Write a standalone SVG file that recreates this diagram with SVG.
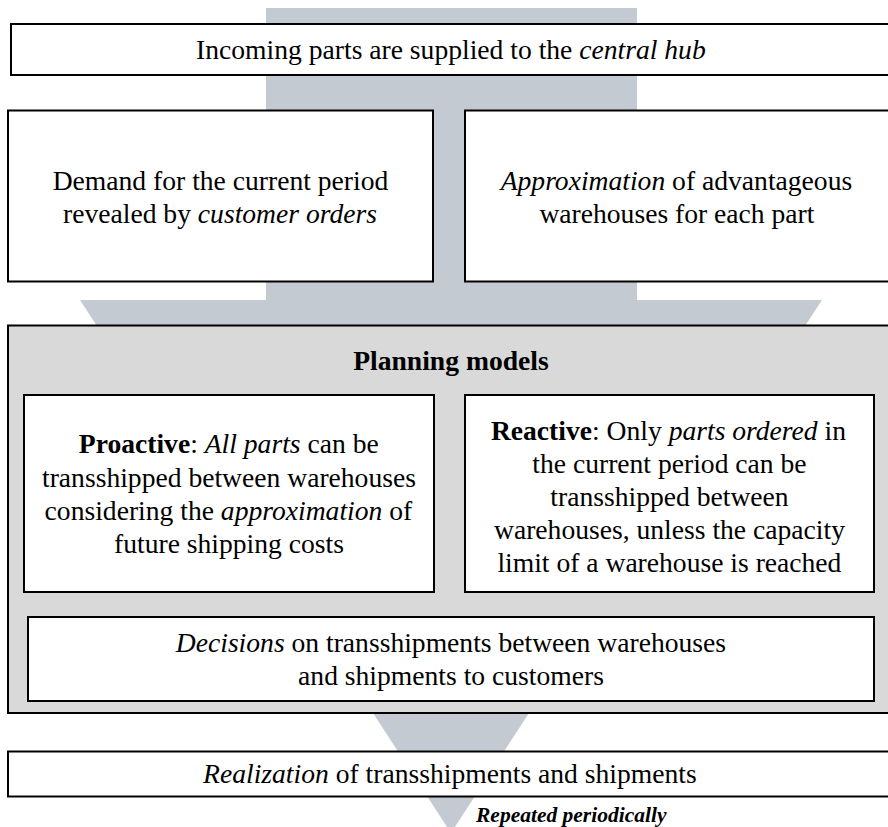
<svg xmlns="http://www.w3.org/2000/svg" width="888" height="827" viewBox="0 0 888 827">
<style>
.box{fill:#ffffff;stroke:#000000;stroke-width:2}
.panel{fill:#d9d9d9;stroke:#000000;stroke-width:2}
.flow{fill:#c3cad1;stroke:none}
</style>
<rect width="888" height="827" fill="#ffffff"/>
<g id="connectors">
<path class="flow" d="M266,8 H637 V300 H822 L805,326 H97 L80,300 H266 Z"/>
<path class="flow" d="M373,713 H529 L451,833 Z"/>
</g>
<g id="node-incoming">
<rect class="box" x="11" y="24" width="890" height="51"/>
<text font-family="Liberation Serif" font-size="27.6" x="196.1" y="59"><tspan style="font-family:'Liberation Serif',serif">Incoming parts are supplied to the </tspan><tspan style="font-family:'Liberation Serif',serif;font-style:italic">central hub</tspan></text>
</g>
<g id="node-demand">
<rect class="box" x="8" y="110.5" width="425" height="171"/>
<text font-family="Liberation Serif" font-size="27.6" x="52.7" y="190"><tspan style="font-family:'Liberation Serif',serif">Demand for the current period</tspan></text>
<text font-family="Liberation Serif" font-size="27.6" x="63" y="223"><tspan style="font-family:'Liberation Serif',serif">revealed by </tspan><tspan style="font-family:'Liberation Serif',serif;font-style:italic">customer orders</tspan></text>
</g>
<g id="node-approximation">
<rect class="box" x="465" y="110.5" width="436" height="171"/>
<text font-family="Liberation Serif" font-size="27.6" x="500.7" y="190"><tspan style="font-family:'Liberation Serif',serif;font-style:italic">Approximation</tspan><tspan style="font-family:'Liberation Serif',serif"> of advantageous</tspan></text>
<text font-family="Liberation Serif" font-size="27.6" x="539.4" y="223"><tspan style="font-family:'Liberation Serif',serif">warehouses for each part</tspan></text>
</g>
<g id="node-planning">
<rect class="panel" x="8" y="325.5" width="893" height="387.5"/>
<text font-family="Liberation Serif" font-size="27.6" font-weight="bold" x="353.2" y="370"><tspan style="font-family:'Liberation Serif',serif;font-weight:bold">Planning models</tspan></text>
</g>
<g id="node-proactive">
<rect class="box" x="24" y="395" width="410" height="197"/>
<text font-family="Liberation Serif" font-size="27.6" x="78.8" y="453"><tspan style="font-family:'Liberation Serif',serif;font-weight:bold">Proactive</tspan><tspan style="font-family:'Liberation Serif',serif">: </tspan><tspan style="font-family:'Liberation Serif',serif;font-style:italic">All parts</tspan><tspan style="font-family:'Liberation Serif',serif"> can be</tspan></text>
<text font-family="Liberation Serif" font-size="27.6" x="42" y="486.5"><tspan style="font-family:'Liberation Serif',serif">transshipped between warehouses</tspan></text>
<text font-family="Liberation Serif" font-size="27.6" x="44.6" y="520"><tspan style="font-family:'Liberation Serif',serif">considering the </tspan><tspan style="font-family:'Liberation Serif',serif;font-style:italic">approximation</tspan><tspan style="font-family:'Liberation Serif',serif"> of</tspan></text>
<text font-family="Liberation Serif" font-size="27.6" x="114" y="553"><tspan style="font-family:'Liberation Serif',serif">future shipping costs</tspan></text>
</g>
<g id="node-reactive">
<rect class="box" x="465" y="395" width="409" height="197"/>
<text font-family="Liberation Serif" font-size="27.6" x="490.9" y="440"><tspan style="font-family:'Liberation Serif',serif;font-weight:bold">Reactive</tspan><tspan style="font-family:'Liberation Serif',serif">: Only </tspan><tspan style="font-family:'Liberation Serif',serif;font-style:italic">parts ordered</tspan><tspan style="font-family:'Liberation Serif',serif"> in</tspan></text>
<text font-family="Liberation Serif" font-size="27.6" x="532.3" y="473"><tspan style="font-family:'Liberation Serif',serif">the current period can be</tspan></text>
<text font-family="Liberation Serif" font-size="27.6" x="550.3" y="506"><tspan style="font-family:'Liberation Serif',serif">transshipped between</tspan></text>
<text font-family="Liberation Serif" font-size="27.6" x="494" y="539"><tspan style="font-family:'Liberation Serif',serif">warehouses, unless the capacity</tspan></text>
<text font-family="Liberation Serif" font-size="27.6" x="497.4" y="572"><tspan style="font-family:'Liberation Serif',serif">limit of a warehouse is reached</tspan></text>
</g>
<g id="node-decisions">
<rect class="box" x="28" y="617" width="846" height="84"/>
<text font-family="Liberation Serif" font-size="27.6" x="175.8" y="652"><tspan style="font-family:'Liberation Serif',serif;font-style:italic">Decisions</tspan><tspan style="font-family:'Liberation Serif',serif"> on transshipments between warehouses</tspan></text>
<text font-family="Liberation Serif" font-size="27.6" x="298.1" y="685"><tspan style="font-family:'Liberation Serif',serif">and shipments to customers</tspan></text>
</g>
<g id="node-realization">
<rect class="box" x="8" y="751.5" width="893" height="45"/>
<text font-family="Liberation Serif" font-size="27.6" x="203.1" y="783"><tspan style="font-family:'Liberation Serif',serif;font-style:italic">Realization</tspan><tspan style="font-family:'Liberation Serif',serif"> of transshipments and shipments</tspan></text>
</g>
<text font-family="Liberation Serif" font-size="21.5" font-weight="bold" font-style="italic" x="476" y="822">Repeated periodically</text>
</svg>
